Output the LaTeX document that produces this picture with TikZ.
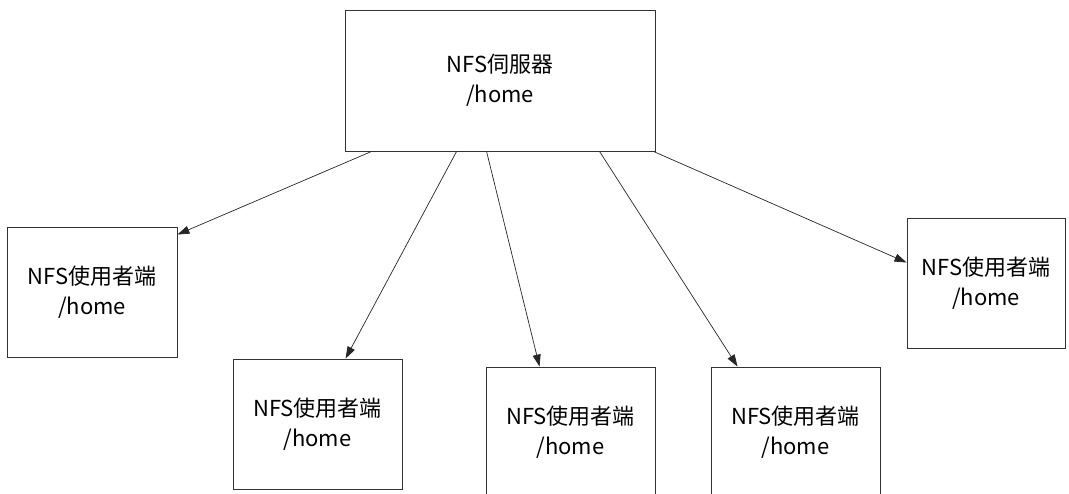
\documentclass[tikz,border=0pt]{standalone}
\usepackage{fontspec}
\setmainfont{Noto Sans CJK TC}
\usetikzlibrary{arrows.meta,calc}
\tikzset{
  box/.style={draw=black!80, line width=0.9pt, rectangle, align=center, inner sep=0pt,
    font=\fontsize{22}{30}\selectfont},
  conn/.style={draw=black!85, line width=0.7pt, -{Triangle[length=12pt,width=8pt]}}
}
\begin{document}
\begin{tikzpicture}[x=1pt,y=-1pt]
\useasboundingbox (0,0) rectangle (1069,494);
\node[box, minimum width=310pt, minimum height=141pt] (srv) at (500,80.5) {NFS伺服器\\/home};
\node[box, minimum width=170pt, minimum height=130pt] (c1) at (92,292) {NFS使用者端\\/home};
\node[box, minimum width=169pt, minimum height=130pt] (c2) at (317.5,424) {NFS使用者端\\/home};
\node[box, minimum width=169pt, minimum height=130pt] (c3) at (570.5,432) {NFS使用者端\\/home};
\node[box, minimum width=169pt, minimum height=130pt] (c4) at (795.5,432) {NFS使用者端\\/home};
\node[box, minimum width=158pt, minimum height=130pt] (c5) at (986,283) {NFS使用者端\\/home};
\draw[conn] ($(srv.south west)+(27,0)$) -- ($(c1.north east)+(0,8)$);
\draw[conn] ($(srv.south west)+(112,0)$) -- ($(c2.north west)+(113,0)$);
\draw[conn] ($(srv.south west)+(142,0)$) -- ($(c3.north west)+(54,0)$);
\draw[conn] ($(srv.south west)+(255,0)$) -- ($(c4.north west)+(27,0)$);
\draw[conn] ($(srv.south east)+(-2,0)$) -- ($(c5.north west)+(0,45)$);
\end{tikzpicture}
\end{document}
